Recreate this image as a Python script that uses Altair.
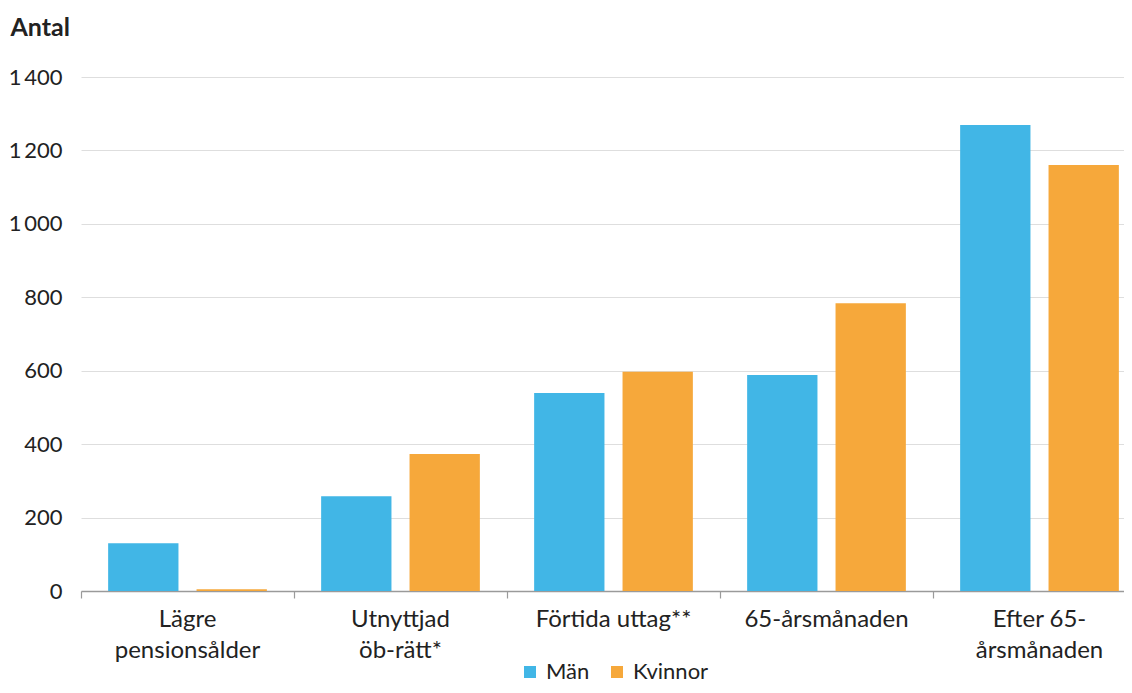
import altair as alt
import pandas as pd

categories = ["Lägre|pensionsålder", "Utnyttjad|öb-rätt*", "Förtida uttag**", "65-årsmånaden", "Efter 65-|årsmånaden"]
series = ["Män", "Kvinnor"]
man_values = [130, 258, 539, 588, 1269]
kvinnor_values = [5, 373, 597, 784, 1160]
y_ticks = [0, 200, 400, 600, 800, 1000, 1200, 1400]
colors = ["#41B6E6", "#F6A83B"]

rows = []
for c, m, k in zip(categories, man_values, kvinnor_values):
    rows.append({"kategori": c, "kon": series[0], "antal": m})
    rows.append({"kategori": c, "kon": series[1], "antal": k})
df = pd.DataFrame(rows)

FONT = "Lato"
TEXT = "#222222"

chart = alt.Chart(df).mark_bar().encode(
    x=alt.X("kategori:N", sort=categories,
            scale=alt.Scale(paddingInner=0, paddingOuter=0),
            axis=alt.Axis(title=None, labelAngle=0, bandPosition=0,
                          labelExpr="split(datum.label, '|')",
                          labelFont=FONT, labelFontSize=24, labelColor=TEXT,
                          labelLineHeight=31, labelPadding=9,
                          tickColor="#9a9a9a", tickSize=7, tickWidth=1.2,
                          domainColor="#9a9a9a", domainWidth=1.5, grid=False)),
    xOffset=alt.XOffset("kon:N", sort=series,
                        scale=alt.Scale(paddingInner=0.2045, paddingOuter=0.307)),
    y=alt.Y("antal:Q",
            scale=alt.Scale(domain=[0, 1400], nice=False),
            axis=alt.Axis(values=y_ticks, title="Antal", titleAngle=0,
                          titleAlign="left", titleBaseline="alphabetic",
                          titleX=-71, titleY=-42, titleFont=FONT, titleFontSize=25,
                          titleFontWeight="bold", titleColor=TEXT,
                          labelExpr="replace(format(datum.value, ','), ',', '\u2009')",
                          labelFont=FONT, labelFontSize=22, labelColor=TEXT,
                          labelPadding=19, ticks=False, domain=False,
                          gridColor="#dedede", gridWidth=1)),
    color=alt.Color("kon:N", sort=series,
                    scale=alt.Scale(domain=series, range=colors),
                    legend=alt.Legend(title=None, orient="none", direction="horizontal",
                                      legendX=438, legendY=584, padding=0,
                                      symbolType="square", symbolSize=144,
                                      symbolStrokeWidth=0, symbolOpacity=1,
                                      labelFont=FONT, labelFontSize=22, labelColor=TEXT,
                                      labelOffset=5, columnPadding=16)),
).properties(
    width=1065, height=514,
    autosize=alt.AutoSizeParams(type="none"),
    padding={"left": 73, "top": 69, "right": -22, "bottom": 94},
).configure_view(stroke=None)

chart.save("out.html", embed_options={"renderer": "svg", "actions": False})
